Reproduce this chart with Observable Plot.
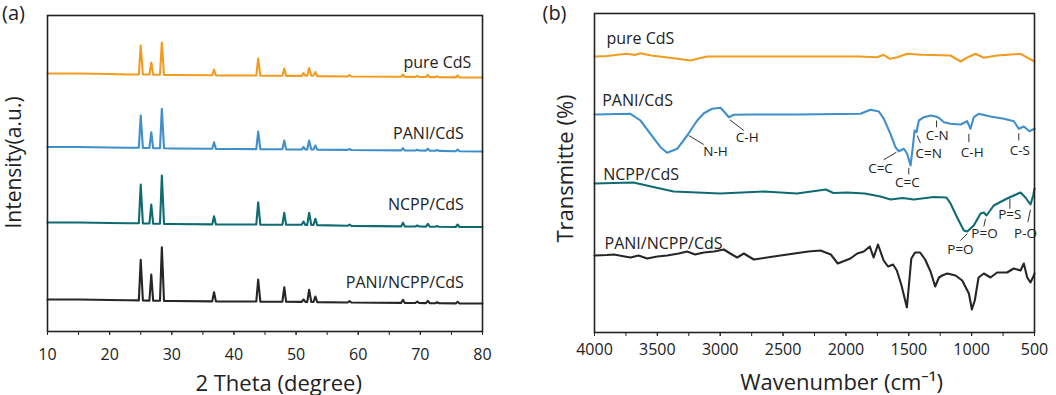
<!DOCTYPE html>
<html>
<head>
<meta charset="utf-8">
<script src="https://cdn.jsdelivr.net/npm/d3@7"></script>
<script src="https://cdn.jsdelivr.net/npm/@observablehq/plot@0.6"></script>
<style>
  html, body { margin: 0; padding: 0; background: white; }
  #wrap { display: flex; width: 1056px; height: 395px; }
  #wrap svg { display: block; }
</style>
</head>
<body>
<div id="wrap"></div>
<script>
// ---------- (a) XRD ----------
const xrdTheta = [10, 15, 20, 23, 24.7, 25.0, 25.35, 26.4, 26.7, 27.0, 28.1, 28.4, 28.75, 30, 36.5, 36.8, 37.1, 40, 43.6, 43.9, 44.25, 47.8, 48.1, 48.4, 50.9, 51.2, 51.5, 51.8, 52.1, 52.45, 52.8, 53.1, 53.4, 58.3, 58.6, 58.9, 66.9, 67.2, 67.5, 69.2, 69.5, 69.8, 70.9, 71.2, 71.5, 72.4, 72.7, 73.0, 75.7, 76.0, 76.3, 80];
const xrdPure = [258, 258, 257.5, 257, 257, 286, 257, 257, 269, 256.8, 256.8, 289, 256.5, 256.5, 256.2, 262, 256, 256, 256, 273, 255.8, 255.7, 263, 255.6, 255.6, 258.3, 255.8, 255.8, 263.5, 255.8, 256, 259.5, 255.4, 255, 256.5, 255, 254.7, 257, 254.6, 254.6, 255.6, 254.5, 254.5, 256.7, 254.4, 254.4, 255.3, 254.3, 254.1, 256, 254, 254];
const xrdPani = [184.5, 184.5, 184, 183.8, 183.7, 216, 183.6, 183.5, 199.3, 183.4, 183.3, 222.7, 183.2, 183, 182.7, 189.3, 182.6, 182.5, 182.4, 200, 182.3, 182.2, 191, 182.1, 182, 184.5, 182, 182, 191, 182, 182, 186, 181.9, 181.6, 182.5, 181.5, 181.1, 183.3, 181, 181, 181.8, 181, 180.9, 182.7, 180.8, 180.7, 181.5, 180.6, 180.3, 182, 180.2, 180];
const xrdNcpp = [109, 109, 108.5, 108.3, 108.2, 147, 108.1, 108, 127, 107.8, 107.7, 156, 107.6, 107.5, 107.1, 115.3, 107.1, 107, 107, 129.3, 106.9, 106.8, 118.7, 106.7, 106.7, 110, 106.6, 106.6, 118.7, 106.6, 106.5, 112.7, 106.4, 105.7, 107, 105.6, 105.1, 108.7, 105, 105, 106, 105, 104.9, 107.7, 104.8, 104.8, 105.5, 104.7, 104.5, 107, 104.5, 104.5];
const xrdPaniNcpp = [32, 32, 31.5, 31.2, 31.1, 71.7, 31, 30.9, 57, 30.8, 30.7, 84.3, 30.6, 30.5, 30.1, 39.3, 30.1, 30, 30, 52, 29.9, 29.8, 44.3, 29.7, 29.6, 32, 29.6, 29.6, 41.7, 29.6, 29.5, 35, 29.4, 29, 30.5, 29, 28.6, 31.7, 28.5, 28.5, 30, 28.5, 28.4, 30.7, 28.3, 28.3, 29.2, 28.2, 28.1, 29.7, 28, 28];

const seriesNames = ["pure CdS", "PANI/CdS", "NCPP/CdS", "PANI/NCPP/CdS"];
const seriesColors = ["#F39B1F", "#3F8FCB", "#0F6B72", "#262626"];
const xrdLabelX = [78.2, 77, 77, 77];
const xrdLabelY = [269, 197.3, 126.5, 49];
const xrdTicksMajor = [10, 20, 30, 40, 50, 60, 70, 80];
const xrdTicksMinor = [10, 15, 20, 25, 30, 35, 40, 45, 50, 55, 60, 65, 70, 75, 80];

// ---------- (b) FTIR ----------
const ftirPureW = [4000, 3900, 3800, 3740, 3680, 3634, 3550, 3400, 3236, 3150, 3104, 2500, 1900, 1751, 1700, 1650, 1592, 1513, 1400, 1168, 1088, 1030, 969, 903, 797, 611, 500];
const ftirPureT = [276, 276.5, 278, 278.7, 277.5, 279.3, 277, 274.7, 272, 274.7, 276, 276, 276, 275.3, 277.7, 273.7, 275.3, 278.7, 277.7, 277, 271, 275.3, 278.7, 274.7, 277, 278.7, 271];

const ftirPaniW = [4000, 3714, 3634, 3555, 3475, 3422, 3342, 3263, 3183, 3130, 3064, 2998, 2958, 2931, 2892, 2759, 2388, 1884, 1805, 1738, 1698, 1646, 1606, 1579, 1539, 1513, 1486, 1468, 1454, 1439, 1420, 1380, 1327, 1287, 1261, 1221, 1168, 1088, 1036, 1009, 983, 943, 850, 744, 664, 625, 585, 540, 500];
const ftirPaniT = [218, 218.7, 212, 198.7, 185.3, 179.7, 183.7, 197, 212, 219.3, 223.7, 224.7, 219.3, 215.3, 217.7, 218, 218, 218.7, 222.7, 221, 213.7, 198.7, 185.3, 181.3, 183.7, 178.7, 167, 185.3, 202, 200.3, 212, 215.3, 217, 216, 214.7, 210.3, 208.7, 208, 211.3, 203.7, 215.3, 218.7, 216, 213.7, 211.3, 203.7, 206, 201.3, 203.7];

const ftirNcppW = [4000, 3850, 3690, 3550, 3370, 3000, 2650, 2390, 2160, 2100, 1990, 1850, 1725, 1645, 1550, 1460, 1300, 1200, 1168, 1115, 1062, 1035, 983, 929, 903, 882, 824, 718, 665, 611, 572, 532, 510, 500];
const ftirNcppT = [149, 149.5, 150, 146, 141, 139, 141, 139, 143, 139.5, 140, 139, 136, 133, 134.5, 133, 135.5, 135, 129, 115, 102, 101, 107, 119, 120, 117, 127, 134, 137, 140, 135, 128, 137, 144];

const ftirBothW = [4000, 3900, 3846, 3760, 3714, 3650, 3581, 3500, 3422, 3330, 3263, 3200, 3130, 3050, 2971, 2920, 2865, 2812, 2733, 2520, 2300, 2202, 2120, 2065, 1964, 1910, 1858, 1810, 1780, 1745, 1700, 1665, 1625, 1595, 1560, 1515, 1480, 1450, 1410, 1370, 1327, 1290, 1260, 1234, 1194, 1128, 1075, 1022, 998, 975, 945, 903, 850, 797, 718, 665, 611, 585, 558, 532, 505, 500];
const ftirBothT = [77, 77.5, 78, 76, 75, 77, 74, 76, 77, 79, 81, 78, 80, 81, 83, 79, 75, 79, 73, 77, 81, 82, 78, 69, 74, 79, 81, 86, 75, 88, 72, 66, 68, 62, 48, 25, 74, 80, 80, 73, 61, 46, 55, 57, 59, 57, 52, 39, 23, 32, 55, 59, 55, 60, 60, 64, 62, 69, 55, 50, 57, 59];

const ftirLabelW = [3905, 3939, 3931, 3920];
const ftirLabelT = [293.5, 231.2, 158, 88.7];
const ftirTicksMajor = [4000, 3500, 3000, 2500, 2000, 1500, 1000, 500];
const ftirTicksMinor = [4000, 3750, 3500, 3250, 3000, 2750, 2500, 2250, 2000, 1750, 1500, 1250, 1000, 750, 500];

// band assignments
const bandText = ["N-H", "C-H", "C=C", "C=C", "C=N", "C-N", "C-H", "C-S", "P=O", "P=O", "P=S", "P-O"];
const bandW = [3037, 2785, 1725, 1512, 1341, 1274, 995, 617, 1089, 898, 696, 571];
const bandT = [181.3, 195.3, 163.7, 150.3, 179.3, 197, 180.3, 182, 83, 99.3, 118, 98.7];
const leadW1 = [3250, 2924, 1598, 1500, 1433, 1279, 1022, 625, 1035, 890, 696, 532];
const leadT1 = [197, 212.7, 180.3, 164.7, 197, 212, 198.7, 199.3, 98.7, 113.7, 133.7, 122.7];
const leadW2 = [3131, 2812, 1699, 1500, 1407, 1279, 1022, 625, 1089, 903, 696, 553];
const leadT2 = [188, 202, 172.7, 158, 189.3, 205.3, 190.3, 192, 92, 106, 123.7, 110.3];

const FONT = "'Open Sans', 'Noto Sans', sans-serif";
const INK = "#222";

const toPts = (xs, ys) => xs.map((x, i) => ({x, y: ys[i]}));

// ---------- panel (a) ----------
const xrdSets = [xrdPure, xrdPani, xrdNcpp, xrdPaniNcpp];
const plotA = Plot.plot({
  width: 528, height: 395,
  marginLeft: 47, marginRight: 46, marginTop: 15, marginBottom: 64,
  x: {domain: [10, 80]},
  y: {domain: [0, 316], axis: null},
  style: {fontFamily: FONT, fontSize: "16px", color: INK, background: "white", overflow: "visible"},
  marks: [
    ...xrdSets.map((ys, k) => Plot.line(toPts(xrdTheta, ys), {x: "x", y: "y", stroke: seriesColors[k], strokeWidth: 2.1})),
    Plot.frame({stroke: INK, strokeWidth: 1.6}),
    Plot.axisX({ticks: xrdTicksMinor, tickFormat: () => "", tickSize: 4, label: null, stroke: INK}),
    Plot.axisX({ticks: xrdTicksMajor, tickSize: 4, tickPadding: 13, label: null, fontSize: 16, fill: INK, stroke: INK}),
    Plot.text(seriesNames, {x: (d, i) => xrdLabelX[i], y: (d, i) => xrdLabelY[i], text: d => d, textAnchor: "end", lineAnchor: "middle", fontSize: 16, fill: INK}),
    Plot.text(["2 Theta (degree)"], {x: () => 47.2, frameAnchor: "bottom", dy: 52, text: d => d, textAnchor: "middle", lineAnchor: "middle", fontSize: 22, fill: INK}),
    Plot.text(["Intensity(a.u.)"], {y: () => 169, frameAnchor: "left", dx: -33, rotate: -90, text: d => d, textAnchor: "middle", lineAnchor: "middle", fontSize: 21, fill: INK}),
    Plot.text(["(a)"], {frameAnchor: "top-left", dx: -34, dy: -2, text: d => d, textAnchor: "middle", lineAnchor: "middle", fontSize: 20, fill: INK})
  ]
});

// ---------- panel (b) ----------
const ftirSets = [[ftirPureW, ftirPureT], [ftirPaniW, ftirPaniT], [ftirNcppW, ftirNcppT], [ftirBothW, ftirBothT]];
const leaders = bandText.map((t, i) => ({x1: leadW1[i], y1: leadT1[i], x2: leadW2[i], y2: leadT2[i]}));
const bands = bandText.map((t, i) => ({t, x: bandW[i], y: bandT[i]}));
const plotB = Plot.plot({
  width: 528, height: 395,
  marginLeft: 66, marginRight: 22, marginTop: 13, marginBottom: 63,
  x: {domain: [4000, 500]},
  y: {domain: [0, 319], axis: null},
  style: {fontFamily: FONT, fontSize: "16px", color: INK, background: "white", overflow: "visible"},
  marks: [
    ...ftirSets.map(([xs, ys], k) => Plot.line(toPts(xs, ys), {x: "x", y: "y", stroke: seriesColors[k], strokeWidth: 2.1})),
    Plot.frame({stroke: INK, strokeWidth: 1.6}),
    Plot.axisX({ticks: ftirTicksMinor, tickFormat: () => "", tickSize: 4, label: null, stroke: INK}),
    Plot.axisX({ticks: ftirTicksMajor, tickSize: 4, tickPadding: 7, label: null, tickFormat: d => String(d), fontSize: 16, fill: INK, stroke: INK}),
    Plot.link(leaders, {x1: "x1", y1: "y1", x2: "x2", y2: "y2", stroke: "#333", strokeWidth: 1}),
    Plot.text(bands, {x: "x", y: "y", text: "t", textAnchor: "middle", lineAnchor: "middle", fontSize: 13.5, fill: INK}),
    Plot.text(seriesNames, {x: (d, i) => ftirLabelW[i], y: (d, i) => ftirLabelT[i], text: d => d, textAnchor: "start", lineAnchor: "middle", fontSize: 16, fill: INK}),
    Plot.text(["Wavenumber (cm\u207B\u00B9)"], {x: () => 2035, frameAnchor: "bottom", dy: 50, text: d => d, textAnchor: "middle", lineAnchor: "middle", fontSize: 22, fill: INK}),
    Plot.text(["Transmitte (%)"], {y: () => 164, frameAnchor: "left", dx: -29, rotate: -90, text: d => d, textAnchor: "middle", lineAnchor: "middle", fontSize: 22, fill: INK}),
    Plot.text(["(b)"], {frameAnchor: "top-left", dx: -40, dy: 0, text: d => d, textAnchor: "middle", lineAnchor: "middle", fontSize: 20, fill: INK})
  ]
});

const wrap = document.getElementById("wrap");
wrap.appendChild(plotA);
wrap.appendChild(plotB);
</script>
</body>
</html>
